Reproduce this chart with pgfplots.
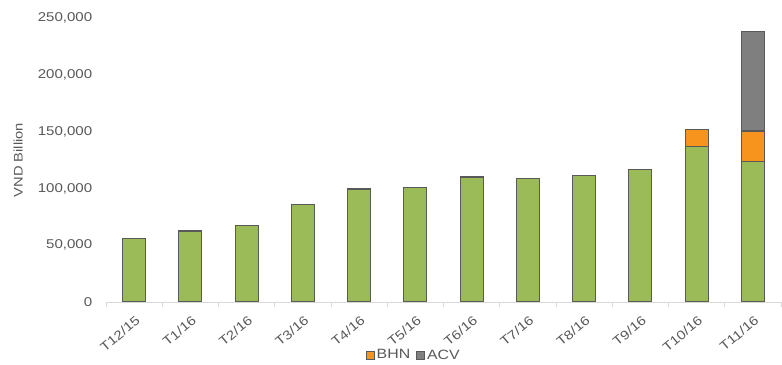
\documentclass[border=0pt]{standalone}
\usepackage{fontspec}
\setmainfont[FakeStretch=1.18]{Liberation Sans}
\usepackage{pgfplots}
\pgfplotsset{compat=1.18}
\definecolor{cgreen}{HTML}{9BBB59}
\definecolor{corange}{HTML}{F7941D}
\definecolor{cgray}{HTML}{7F7F7F}
\definecolor{cedge}{HTML}{595959}
\definecolor{ctext}{HTML}{595959}
\definecolor{caxis}{HTML}{D9D9D9}
\begin{document}
\begin{tikzpicture}
\useasboundingbox (0,0) rectangle (782bp,365bp);
\begin{axis}[
  at={(106bp,63bp)}, anchor=south west,
  scale only axis, width=675bp, height=284bp,
  ybar, bar width=23bp, bar shift=0pt,
  xmin=-0.5, xmax=11.5, ymin=0, ymax=250000,
  xtick={0,...,11},
  xticklabels={T12/15,T1/16,T2/16,T3/16,T4/16,T5/16,T6/16,T7/16,T8/16,T9/16,T10/16,T11/16},
  minor xtick={-0.5,0.5,...,11.5},
  major x tick style={draw=none},
  minor x tick style={draw=caxis, line width=0.8bp},
  minor tick length=5bp,
  tick align=outside,
  ytick={0,50000,100000,150000,200000,250000},
  ytick style={draw=none},
  scaled y ticks=false,
  axis x line*=bottom, axis y line*=left,
  y axis line style={draw=none},
  x axis line style={draw=caxis, line width=0.8bp},
  /pgf/number format/assume math mode=true,
  /pgf/number format/fixed,
  /pgf/number format/1000 sep={,},
  yticklabel style={font=\fontsize{12.8}{14}\selectfont, text=ctext, xshift=-6bp},
  xticklabel style={rotate=40, anchor=north east, font=\fontsize{12.8}{14}\selectfont, text=ctext, inner sep=1bp, yshift=-6bp, xshift=-4bp},
  ylabel={VND Billion},
  ylabel style={at={(axis description cs:-0.13,0.5)}, anchor=center, font=\fontsize{12.5}{14}\selectfont, text=ctext},
  legend style={at={(axis description cs:0.456,-0.187)}, anchor=center, draw=none, legend columns=2,
    font=\fontsize{13.5}{15}\selectfont, text=ctext,
    /tikz/every even column/.append style={column sep=4bp}},
  legend image code/.code={\draw[#1, draw=cedge, line width=0.8bp] (0bp,-4bp) rectangle (8bp,4bp);},
]
% cumulative totals: green + BHN + ACV (ACV, T11/16)
\addplot[fill=cgray, draw=cedge, line width=1.1bp, forget plot] coordinates {(11,238500)};
% cumulative totals: green + BHN
\addplot[fill=corange, draw=cedge, line width=1.1bp, forget plot] coordinates {(10,151500) (11,150500)};
% base series
\addplot[fill=cgreen, draw=cedge, line width=1.1bp, forget plot] coordinates {
  (0,56000) (1,62500) (2,67000) (3,85500) (4,99500) (5,101000)
  (6,110000) (7,108500) (8,111000) (9,117000) (10,136500) (11,124000)};
\addlegendimage{fill=corange}
\addlegendentry{BHN}
\addlegendimage{fill=cgray}
\addlegendentry{ACV}
\end{axis}
\end{tikzpicture}
\end{document}
